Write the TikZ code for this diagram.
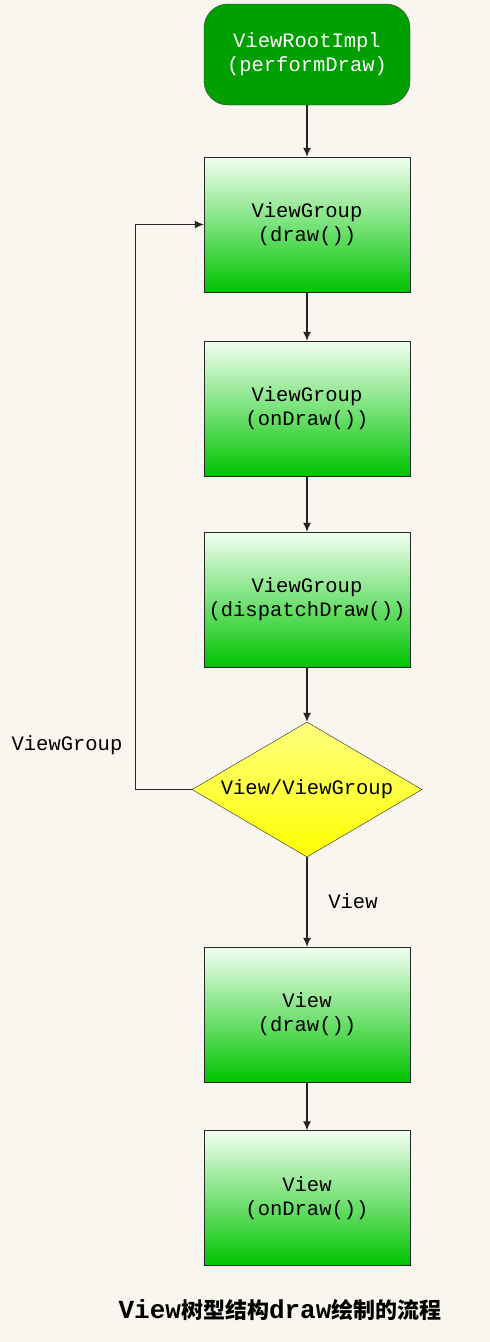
\documentclass[tikz,border=0pt]{standalone}
\usepackage{fontspec}
\setmonofont{Liberation Mono}
\newfontfamily\cjk{Noto Sans CJK SC}
\usetikzlibrary{shapes.geometric,arrows.meta}
\definecolor{paper}{RGB}{249,246,240}
\definecolor{rootgreen}{RGB}{0,160,0}
\definecolor{boxtop}{RGB}{242,255,242}
\definecolor{boxbottom}{RGB}{0,196,0}
\definecolor{diatop}{RGB}{255,255,128}
\definecolor{diabottom}{RGB}{255,255,0}
\begin{document}
\begin{tikzpicture}[x=1pt,y=-1pt,
	every node/.style={font=\ttfamily\fontsize{20.5}{24}\selectfont},
	root/.style={draw=black!80, fill=rootgreen, text=white, rounded corners=24pt,
		minimum width=206pt, minimum height=101pt, align=center},
	stepbox/.style={draw=black!85, top color=boxtop, bottom color=boxbottom,
		minimum width=206pt, minimum height=135pt, align=center},
	choice/.style={diamond, draw=black!85, top color=diatop, bottom color=diabottom,
		aspect=1.7, minimum width=230pt, minimum height=135pt, inner sep=0pt},
	flow/.style={draw=black!85, line width=1.1pt, -{Latex[length=9pt,width=8pt]}}]
	\fill[paper] (0,0) rectangle (490,1342);
	\useasboundingbox (0,0) rectangle (490,1342);
	\node[root] (root) at (307,54.5) {ViewRootImpl\\(performDraw)};
	\node[stepbox] (gdraw) at (307,224.5) {ViewGroup\\(draw())};
	\node[stepbox] (gondraw) at (307,408.5) {ViewGroup\\(onDraw())};
	\node[stepbox] (gdispatch) at (307,599.5) {ViewGroup\\(dispatchDraw())};
	\node[choice] (kind) at (307,789.5) {View/ViewGroup};
	\node[stepbox] (vdraw) at (307,1014.5) {View\\(draw())};
	\node[stepbox] (vondraw) at (307,1198) {View\\(onDraw())};
	\draw[flow] (root) -- (gdraw);
	\draw[flow] (gdraw) -- (gondraw);
	\draw[flow] (gondraw) -- (gdispatch);
	\draw[flow] (gdispatch) -- (kind);
	\draw[flow] (kind) -- (vdraw);
	\draw[flow] (vdraw) -- (vondraw);
	\draw[flow] (kind.west) -- ++(-56,0) |- (gdraw.west);
	\node (lgroup) at (67,745) {ViewGroup};
	\node (lview) at (353,901) {View};
	\node (caption) at (280,1310) {\fontsize{26}{28}\selectfont\bfseries View{\cjk\fontsize{22}{28}\selectfont 树型结构}draw{\cjk\fontsize{22}{28}\selectfont 绘制的流程}};
\end{tikzpicture}
\end{document}
